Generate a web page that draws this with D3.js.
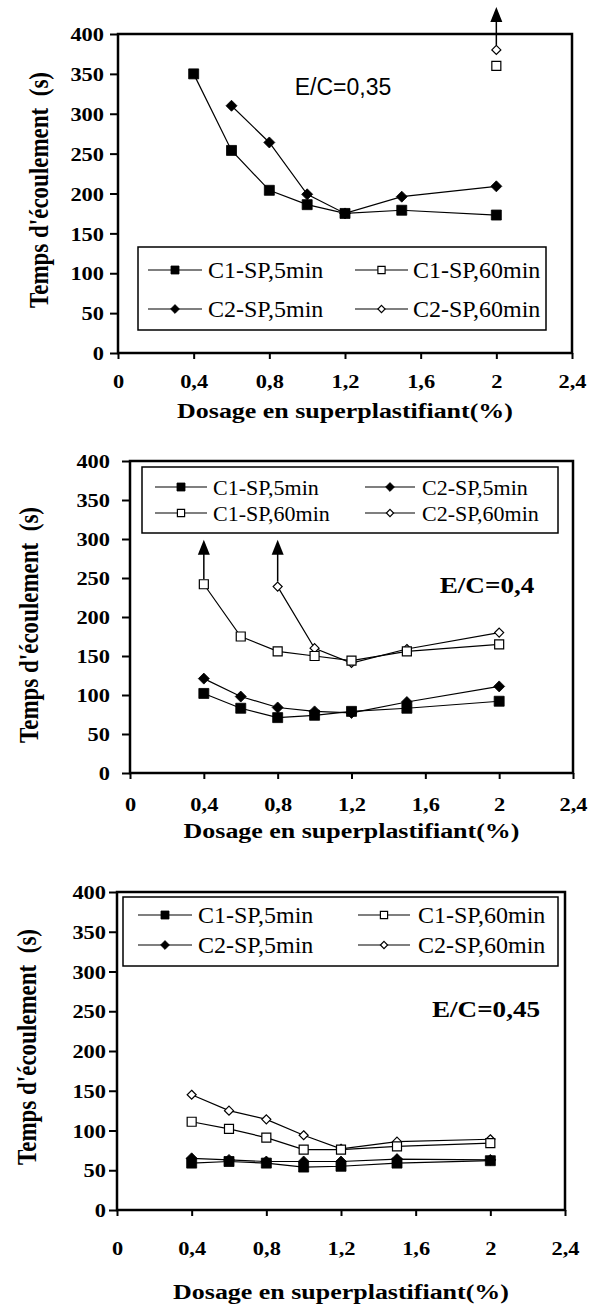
<!DOCTYPE html>
<html>
<head>
<meta charset="utf-8">
<script src="https://cdn.jsdelivr.net/npm/d3@7"></script>
<style>
  body { margin: 0; background: #fff; }
  svg { display: block; }
</style>
</head>
<body>
<svg id="chart"></svg>
<script>
var dosage = [0.4, 0.6, 0.8, 1.0, 1.2, 1.5, 2.0];
var xTicks = [0, 0.4, 0.8, 1.2, 1.6, 2, 2.4];
var yTicks = [0, 50, 100, 150, 200, 250, 300, 350, 400];
var seriesNames = ["C1-SP,5min", "C1-SP,60min", "C2-SP,5min", "C2-SP,60min"];

// E/C = 0,35
var ec035_c1_5min  = [350, 254, 204, 186, 175, 179, 173];
var ec035_c1_60min = [null, null, null, null, null, null, 360];
var ec035_c2_5min  = [null, 310, 264, 199, 175, 196, 209];
var ec035_c2_60min = [null, null, null, null, null, null, 380];

// E/C = 0,4
var ec04_c1_5min  = [102, 83, 71, 74, 79, 83, 92];
var ec04_c1_60min = [242, 175, 156, 150, 144, 156, 165];
var ec04_c2_5min  = [121, 98, 84, 79, 77, 91, 111];
var ec04_c2_60min = [null, null, 239, 160, 141, 159, 180];

// E/C = 0,45
var ec045_c1_5min  = [59, 61, 59, 54, 55, 59, 62];
var ec045_c1_60min = [111, 102, 91, 76, 76, 80, 84];
var ec045_c2_5min  = [65, 63, 61, 61, 61, 64, 63];
var ec045_c2_60min = [145, 125, 114, 94, 77, 86, 89];

// arrows (values beyond the measured range): [dosage, from, to]
var ec035_arrows = [[2.0, 380, 434]];
var ec04_arrows  = [[0.4, 242, 299], [0.8, 239, 299]];
var ec045_arrows = [];

var width = 589, height = 1311;
var serif = "'Times New Roman', 'Liberation Serif', Tinos, serif";
var sans = "Arial, 'Liberation Sans', sans-serif";
var stretch = 1.18;

// marker styles per series
var markers = [
  { shape: "square",  fill: true,  size: 10 },
  { shape: "square",  fill: false, size: 9 },
  { shape: "diamond", fill: true,  size: 11 },
  { shape: "diamond", fill: false, size: 9 }
];

var panels = [
  { label: "E/C=0,35", labelSans: true, labelX: 343, labelY: 95,
    left: 118, right: 572, top: 34, bottom: 353,
    series: [ec035_c1_5min, ec035_c1_60min, ec035_c2_5min, ec035_c2_60min],
    arrows: ec035_arrows, legendFont: 24,
    legend: { x: 138, y: 247, w: 408, h: 83, rows: [270, 309],
              cols: [[148, 202, 208], [355, 408, 413]],
              slots: [[0, 0], [1, 0], [0, 1], [1, 1]] },
    yPad: 14, yTitleX: 38, yTitleY: 190, xLabelY: 381, xTitleY: 410 },
  { label: "E/C=0,4", labelSans: false, labelX: 487, labelY: 593,
    left: 130, right: 573, top: 461, bottom: 773,
    series: [ec04_c1_5min, ec04_c1_60min, ec04_c2_5min, ec04_c2_60min],
    arrows: ec04_arrows, legendFont: 22,
    legend: { x: 142, y: 467, w: 416, h: 66, rows: [487, 513],
              cols: [[155, 207, 213], [365, 415, 422]],
              slots: [[0, 0], [0, 1], [1, 0], [1, 1]] },
    yPad: 20, yTitleX: 28, yTitleY: 625, xLabelY: 804, xTitleY: 830 },
  { label: "E/C=0,45", labelSans: false, labelX: 486, labelY: 1017,
    left: 117, right: 565, top: 892, bottom: 1210,
    series: [ec045_c1_5min, ec045_c1_60min, ec045_c2_5min, ec045_c2_60min],
    arrows: ec045_arrows, legendFont: 24,
    legend: { x: 123, y: 897, w: 435, h: 69, rows: [915, 945],
              cols: [[138, 192, 198], [358, 410, 418]],
              slots: [[0, 0], [1, 0], [0, 1], [1, 1]] },
    yPad: 11, yTitleX: 26, yTitleY: 1047, xLabelY: 1248, xTitleY: 1291 }
];

var svg = d3.select("#chart")
    .attr("width", width)
    .attr("height", height)
    .style("background", "#fff");

function fmt(d) { return String(d).replace(".", ","); }

function markerPath(m) {
  var h = m.size / 2;
  if (m.shape === "square") {
    return "M" + (-h) + "," + (-h) + "H" + h + "V" + h + "H" + (-h) + "Z";
  }
  return "M0," + (-h) + "L" + h + ",0L0," + h + "L" + (-h) + ",0Z";
}

function drawMarker(g, m, x, y, scale) {
  var mm = { shape: m.shape, size: m.size * (scale || 1) };
  g.append("path")
      .attr("d", markerPath(mm))
      .attr("transform", "translate(" + x + "," + y + ")")
      .attr("fill", m.fill ? "#000" : "#fff")
      .attr("stroke", "#000")
      .attr("stroke-width", m.fill ? 0.8 : 1.2);
}

panels.forEach(function (p) {
  var g = svg.append("g");

  var x = d3.scaleLinear().domain([0, 2.4]).range([p.left, p.right]);
  var y = d3.scaleLinear().domain([0, 400]).range([p.bottom, p.top]);

  // y axis
  var yAxis = g.append("g")
      .attr("transform", "translate(" + p.left + ",0)")
      .call(d3.axisLeft(y).tickValues(yTicks).tickSize(8).tickSizeOuter(0).tickFormat(fmt));
  // x axis
  var xAxis = g.append("g")
      .attr("transform", "translate(0," + p.bottom + ")")
      .call(d3.axisBottom(x).tickValues(xTicks).tickSize(6).tickSizeOuter(0).tickFormat(fmt));

  [yAxis, xAxis].forEach(function (a) {
    a.select(".domain").remove();
    a.selectAll("line").attr("stroke", "#000").attr("stroke-width", 2);
    a.selectAll("text")
        .attr("fill", "#000")
        .style("font-family", serif)
        .style("font-weight", "bold")
        .style("font-size", "19px");
  });
  yAxis.selectAll("text")
      .attr("x", -p.yPad / stretch)
      .attr("dy", "0.35em")
      .attr("transform", "scale(" + stretch + ",1)");
  xAxis.selectAll("text")
      .attr("y", p.xLabelY - p.bottom)
      .attr("dy", "0.35em")
      .attr("transform", "scale(" + stretch + ",1)");

  // frame
  g.append("rect")
      .attr("x", p.left)
      .attr("y", p.top)
      .attr("width", p.right - p.left)
      .attr("height", p.bottom - p.top)
      .attr("fill", "none")
      .attr("stroke", "#000")
      .attr("stroke-width", 2.5);

  // axis titles
  g.append("text")
      .attr("transform", "translate(" + ((p.left + p.right) / 2) + "," + p.xTitleY + ") scale(" + stretch + ",1)")
      .attr("text-anchor", "middle")
      .attr("dy", "0.35em")
      .style("font-family", serif)
      .style("font-weight", "bold")
      .style("font-size", "22px")
      .text("Dosage en superplastifiant(%)");

  g.append("text")
      .attr("transform", "translate(" + p.yTitleX + "," + p.yTitleY + ") rotate(-90) scale(1," + stretch + ")")
      .attr("text-anchor", "middle")
      .attr("dy", "0.35em")
      .style("font-family", serif)
      .style("font-weight", "bold")
      .style("font-size", "23px")
      .style("white-space", "pre")
      .text("Temps d'écoulement  (s)");

  // E/C label
  g.append("text")
      .attr("transform", "translate(" + p.labelX + "," + p.labelY + ")" + (p.labelSans ? "" : " scale(" + stretch + ",1)"))
      .attr("text-anchor", "middle")
      .style("font-family", p.labelSans ? sans : serif)
      .style("font-weight", p.labelSans ? "normal" : "bold")
      .style("font-size", "23px")
      .text(p.label);

  // legend
  var L = p.legend;
  var lg = g.append("g");
  lg.append("rect")
      .attr("x", L.x).attr("y", L.y)
      .attr("width", L.w).attr("height", L.h)
      .attr("fill", "#fff")
      .attr("stroke", "#000")
      .attr("stroke-width", 1.5);
  seriesNames.forEach(function (name, i) {
    var c = L.cols[L.slots[i][0]];
    var ry = L.rows[L.slots[i][1]];
    lg.append("line")
        .attr("x1", c[0]).attr("x2", c[1])
        .attr("y1", ry).attr("y2", ry)
        .attr("stroke", "#000").attr("stroke-width", 1.2);
    drawMarker(lg, markers[i], (c[0] + c[1]) / 2, ry, 0.8);
    lg.append("text")
        .attr("x", c[2]).attr("y", ry)
        .attr("dy", "0.35em")
        .style("font-family", serif)
        .style("font-size", p.legendFont + "px")
        .text(name);
  });

  // arrows
  p.arrows.forEach(function (a) {
    var ax = x(a[0]);
    var y0 = y(a[1]) - 5, y1 = y(a[2]);
    g.append("line")
        .attr("x1", ax).attr("x2", ax)
        .attr("y1", y0).attr("y2", y1 + 12)
        .attr("stroke", "#000").attr("stroke-width", 1.5);
    g.append("path")
        .attr("d", "M" + ax + "," + y1 + "L" + (ax + 6) + "," + (y1 + 15) + "L" + (ax - 6) + "," + (y1 + 15) + "Z")
        .attr("fill", "#000");
  });

  // lines
  var line = d3.line()
      .defined(function (d) { return d[1] != null; })
      .x(function (d) { return x(d[0]); })
      .y(function (d) { return y(d[1]); });

  p.series.forEach(function (vals) {
    var pts = dosage.map(function (d, j) { return [d, vals[j]]; });
    g.append("path")
        .attr("d", line(pts))
        .attr("fill", "none")
        .attr("stroke", "#000")
        .attr("stroke-width", 1.2);
  });

  // markers
  [3, 1, 2, 0].forEach(function (i) {
    var vals = p.series[i];
    dosage.forEach(function (d, j) {
      if (vals[j] == null) return;
      drawMarker(g, markers[i], x(d), y(vals[j]));
    });
  });
});
</script>
</body>
</html>
